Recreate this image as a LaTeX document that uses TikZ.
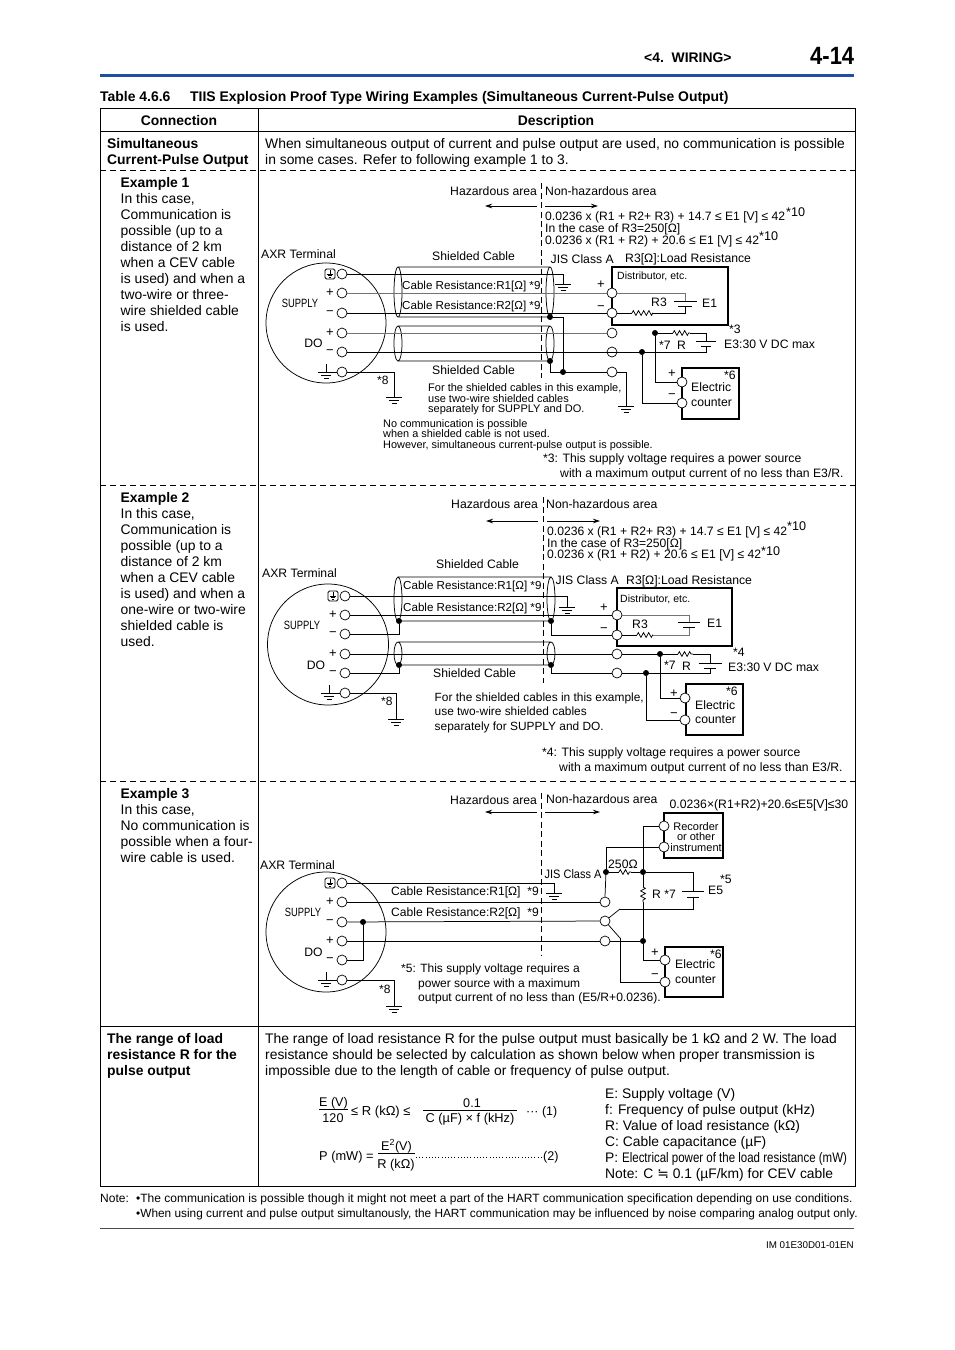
\documentclass[tikz,border=0pt]{standalone}
\usepackage{fontspec}
\setmainfont{Liberation Sans}
\newfontfamily\djv{DejaVu Sans}
\usetikzlibrary{decorations.pathmorphing,arrows.meta}
\definecolor{hdrblue}{HTML}{1F4FA3}
\newcounter{tn}
\newcommand\T[5][]{\stepcounter{tn}\node[tx,name=t\arabic{tn},#1] at (#2,#3) {\fontsize{#4}{#4}\selectfont #5};}
\newcommand\CX[2]{\scalebox{#1}[1]{#2}}
\newcommand\Gnd[2]{\draw[wire] (#1-8,#2)--(#1+8,#2) (#1-5,#2+3)--(#1+5,#2+3) (#1-2.5,#2+6)--(#1+2.5,#2+6);}
\newcommand\Bat[5]{\draw[wire] (#1-#4,#2)--(#1+#4,#2) (#1-#5,#3)--(#1+#5,#3);}
\newcommand\Cable[4]{\draw[wire] (#1,#3)--(#2,#3) (#1,#4)--(#2,#4) (#1,{(#3+#4)/2}) ellipse [x radius=4,y radius={(#4-#3)/2}] (#2,{(#3+#4)/2}) ellipse [x radius=4,y radius={(#4-#3)/2}];}
\newcommand\Earth[2]{\draw[wire,rounded corners=1.5] (#1-5,#2-5) rectangle (#1+5,#2+5); \draw[wire] (#1,#2-4)--(#1,#2) (#1-3.2,#2)--(#1+3.2,#2) (#1-1.8,#2+1.6)--(#1+1.8,#2+1.6) (#1-.8,#2+3)--(#1+.8,#2+3);}
\newcommand\Chass[2]{\draw[wire] (#1,#2-8)--(#1,#2) (#1-8,#2)--(#1+11,#2) (#1-5,#2+3)--(#1+5,#2+3) (#1-2.5,#2+6)--(#1+2.5,#2+6);}
\tikzset{
 tx/.style={inner sep=0pt,anchor=base west,text=black},
 term/.style={circle,draw=black,line width=.7pt,fill=white,minimum size=10pt,inner sep=0pt},
 jdot/.style={circle,fill=black,minimum size=6pt,inner sep=0pt},
 wire/.style={line width=.75pt,black},
 gwire/.style={line width=.9pt,black!55},
 bx/.style={line width=1.4pt,black},
 zz/.style={wire,decorate,decoration={zigzag,amplitude=2.4pt,segment length=5.2pt}},
 zone/.style={line width=.75pt,dash pattern=on 6pt off 3.5pt},
 rowd/.style={line width=.75pt,dash pattern=on 6pt off 4pt},
 arr/.style={line width=.75pt,-{Stealth[length=7pt,width=4.5pt]}},
}
\begin{document}
\begin{tikzpicture}[x=1pt,y=-1pt]
\useasboundingbox (0,0) rectangle (954,1350);
\fill[white] (0,0) rectangle (954,1350);
% ---------- header
\T{644}{62}{13.9}{\bfseries <4.\ \ WIRING>}
\T{810}{64}{25}{\bfseries \CX{.88}{4-14}}
\draw[hdrblue,line width=3pt] (100,75.5)--(854,75.5);
\T{100}{101}{13.95}{\bfseries Table 4.6.6}
\T{190}{101}{13.95}{\bfseries TIIS Explosion Proof Type Wiring Examples (Simultaneous Current-Pulse Output)}
% ---------- table
\draw[line width=.8pt] (100,108) rectangle (855,1186);
\draw[line width=.8pt] (258.5,108)--(258.5,1186) (100,131.5)--(855,131.5) (100,1026.5)--(855,1026.5);
\draw[rowd] (100,170.5)--(855,170.5) (100,485.5)--(855,485.5) (100,781.5)--(855,781.5);
\T[anchor=base]{179}{125}{13.9}{\bfseries Connection}
\T[anchor=base]{556}{125}{13.9}{\bfseries Description}
\T{107}{148}{13.9}{\bfseries Simultaneous}
\T{107}{164}{13.9}{\bfseries Current-Pulse Output}
\T{265}{148}{13.87}{When simultaneous output of current and pulse output are used, no communication is possible}
\T{265}{164}{13.87}{in some cases. Refer to following example 1 to 3.}
% col 1 texts
\T{120.5}{187}{13.9}{\bfseries Example 1}
\T{120.5}{203}{13.9}{In this case,}
\T{120.5}{219}{13.9}{Communication is}
\T{120.5}{235}{13.9}{possible (up to a}
\T{120.5}{251}{13.9}{distance of 2 km}
\T{120.5}{267}{13.9}{when a CEV cable}
\T{120.5}{283}{13.9}{is used) and when a}
\T{120.5}{299}{13.9}{two-wire or three-}
\T{120.5}{315}{13.9}{wire shielded cable}
\T{120.5}{331}{13.9}{is used.}
\T{120.5}{502}{13.9}{\bfseries Example 2}
\T{120.5}{518}{13.9}{In this case,}
\T{120.5}{534}{13.9}{Communication is}
\T{120.5}{550}{13.9}{possible (up to a}
\T{120.5}{566}{13.9}{distance of 2 km}
\T{120.5}{582}{13.9}{when a CEV cable}
\T{120.5}{598}{13.9}{is used) and when a}
\T{120.5}{614}{13.9}{one-wire or two-wire}
\T{120.5}{630}{13.9}{shielded cable is}
\T{120.5}{646}{13.9}{used.}
\T{120.5}{798}{13.9}{\bfseries Example 3}
\T{120.5}{814}{13.9}{In this case,}
\T{120.5}{830}{13.9}{No communication is}
\T{120.5}{846}{13.9}{possible when a four-}
\T{120.5}{862}{13.9}{wire cable is used.}
% ========== EXAMPLE 1
\draw[wire] (326,323) circle [radius=60];
\draw[zone] (541.5,183)--(541.5,378);
\draw[arr] (537,206)--(485,206);
\draw[arr] (545,206)--(598,206);
\Cable{398}{550}{267}{317}
\Cable{398}{550}{326}{361}
\draw[bx] (612,267) rectangle (728,325);
\draw[bx] (682,368) rectangle (739,419);
\foreach \n/\y in {a1/274,a2/293,a3/313,a4/333,a5/352,a6/372}{\node[term] (\n) at (342,\y) {};}
\foreach \n/\y in {b2/293,b3/313,b4/333,b5/352,b6/372}{\node[term] (\n) at (612,\y) {};}
\node[term] (cp) at (682,382) {};
\node[term] (cm) at (682,403) {};
\node[jdot] (s1) at (550,317) {};
\node[jdot] (s2) at (550,361) {};
\node[jdot] (j1) at (563,372) {};
\node[jdot] (j2) at (655,333) {};
\node[jdot] (j3) at (642,352) {};
\coordinate (g1) at (563,284); \coordinate (g2) at (394,397); \coordinate (g3) at (626,406);
\coordinate (p1) at (685,301); \coordinate (p2) at (685,306);
\coordinate (r1a) at (632,313); \coordinate (r1b) at (653,313);
\coordinate (r2a) at (673,333); \coordinate (r2b) at (690,333);
\coordinate (p3) at (706,341); \coordinate (p4) at (706,346);
\draw[wire] (a1.east) -| (g1);
\draw[gwire] (a2)--(b2);
\draw[wire] (a3)--(b3);
\draw[gwire] (a4)--(b4);
\draw[wire] (a5)--(j3);
\draw[wire] (a6.east) -| (g2);
\draw[wire] (s1) -| (j1);
\draw[wire] (s2) |- (b6.west);
\draw[wire] (b6.east) -| (g3);
\draw[gwire] (b2.east) -| (p1);
\draw[wire] (p2) |- (r1b);
\draw[zz] (r1a)--(r1b);
\draw[wire] (b3.east)--(r1a);
\draw[wire] (j2)--(r2a);
\draw[zz] (r2a)--(r2b);
\draw[wire] (r2b) -| (p3);
\draw[wire] (p4) |- (b5.east);
\draw[wire] (j2) |- (cp.west);
\draw[wire] (j3) |- (cm.west);
\Gnd{563}{284}\Gnd{394}{397}\Gnd{626}{406}
\Bat{685}{301}{306}{11.5}{7}
\Bat{706}{341}{346}{10}{5}
\Earth{330}{274}
\Chass{326}{372}
\T[anchor=center]{330}{293}{13}{+}\T[anchor=center]{330}{313}{13}{−}\T[anchor=center]{330}{333}{13}{+}\T[anchor=center]{330}{352}{13}{−}
\T[anchor=center]{300}{303}{12}{\CX{.78}{SUPPLY}}
\T[anchor=center]{313.5}{343}{12.2}{DO}
\T[anchor=center]{601}{285}{13}{+}\T[anchor=center]{601}{308}{13}{−}
\T[anchor=center]{672}{374}{13}{+}\T[anchor=center]{672}{396}{13}{−}
\T{261}{258}{12.2}{AXR Terminal}
\T{432}{260}{12.2}{Shielded Cable}
\T{432}{374}{12.2}{Shielded Cable}
\T{402}{289}{11.6}{Cable Resistance:R1[Ω] *9}
\T{402}{309}{11.6}{Cable Resistance:R2[Ω] *9}
\T{450}{195}{12.2}{Hazardous area}
\T{545}{195}{12.2}{Non-hazardous area}
\T{545}{220}{12.15}{0.0236 x (R1 + R2+ R3) + 14.7 ≤ E1 [V] ≤ 42}
\T{786}{216}{12.6}{*10}
\T{545}{232}{12.15}{In the case of R3=250[Ω]}
\T{545}{244}{12.15}{0.0236 x (R1 + R2) + 20.6 ≤ E1 [V] ≤ 42}
\T{759}{240}{12.6}{*10}
\T{550.5}{263}{12.2}{JIS Class A}
\T{625}{262}{12.2}{R3[Ω]:Load Resistance}
\T{617}{279}{10.5}{Distributor, etc.}
\T{651}{306}{12.2}{R3}
\T{702}{307}{12.2}{E1}
\T{729}{333}{12.2}{*3}
\T{659}{349}{12.2}{*7}
\T{677}{349}{12.2}{R}
\T{724}{348}{12.2}{E3:30 V DC max}
\T{724}{379}{12.2}{*6}
\T{691}{391}{12.2}{Electric}
\T{691}{406}{12.2}{counter}
\T{377}{384}{12}{*8}
\T{428}{391}{11}{For the shielded cables in this example,}
\T{428}{402}{11}{use two-wire shielded cables}
\T{428}{412.5}{11}{separately for SUPPLY and DO.}
\T{383}{427}{10.9}{No communication is possible}
\T{383}{437.5}{10.9}{when a shielded cable is not used.}
\T{383}{448}{10.9}{However, simultaneous current-pulse output is possible.}
\T{543}{462}{12.2}{*3: This supply voltage requires a power source}
\T{560}{477}{12.2}{with a maximum output current of no less than E3/R.}
% ========== EXAMPLE 2
\draw[wire] (328,644.5) circle [radius=60.5];
\draw[zone] (543,497)--(543,683);
\draw[arr] (538,521)--(486,521);
\draw[arr] (547,521)--(600,521);
\Cable{398}{551}{577}{621}
\Cable{398}{551}{642}{665}
\draw[bx] (617,588) rectangle (732,646);
\draw[bx] (686,684) rectangle (743,735);
\foreach \n/\y in {d1/596,d2/615,d3/634,d4/654,d5/673,d6/693}{\node[term] (\n) at (345,\y) {};}
\foreach \n/\y in {e2/615,e3/635,e4/654,e5/673}{\node[term] (\n) at (617,\y) {};}
\node[term] (fp) at (685,698) {};
\node[term] (fm) at (685,720) {};
\node[jdot] (u1) at (399,621) {};
\node[jdot] (u2) at (399,665) {};
\node[jdot] (u3) at (551,621) {};
\node[jdot] (u4) at (551,665) {};
\node[jdot] (k2) at (660,654) {};
\node[jdot] (k3) at (646,673) {};
\coordinate (h1) at (567,607); \coordinate (h2) at (396,719);
\coordinate (q1) at (689,622); \coordinate (q2) at (689,627);
\coordinate (v1a) at (637,635); \coordinate (v1b) at (653,635);
\coordinate (v2a) at (678,654); \coordinate (v2b) at (693,654);
\coordinate (q3) at (710,663); \coordinate (q4) at (710,668);
\draw[wire] (d1.east) -| (h1);
\draw[wire] (d2)--(e2);
\draw[wire] (d3.east) -| (u1);
\draw[wire] (d4)--(e4);
\draw[wire] (d5.east) -| (u2);
\draw[wire] (d6.east) -| (h2);
\draw[wire] (u3) |- (e3.west);
\draw[wire] (u4) |- (e5.west);
\draw[gwire] (e2.east) -| (q1);
\draw[gwire] (q2) |- (v1b);
\draw[zz] (v1a)--(v1b);
\draw[wire] (e3.east)--(v1a);
\draw[wire] (e4.east)--(v2a);
\draw[zz] (v2a)--(v2b);
\draw[wire] (v2b) -| (q3);
\draw[wire] (q4) |- (e5.east);
\draw[wire] (k2) |- (fp.west);
\draw[wire] (k3) |- (fm.west);
\Gnd{567}{607}\Gnd{396}{719}
\Bat{689}{622}{627}{11}{6}
\Bat{710}{663}{668}{11.5}{6}
\Earth{333}{596}
\Chass{329}{693}
\T[anchor=center]{333}{615}{13}{+}\T[anchor=center]{333}{634}{13}{−}\T[anchor=center]{333}{654}{13}{+}\T[anchor=center]{333}{673}{13}{−}
\T[anchor=center]{302}{625}{12}{\CX{.78}{SUPPLY}}
\T[anchor=center]{316}{665}{12.2}{DO}
\T[anchor=center]{604}{608}{13}{+}\T[anchor=center]{604}{630}{13}{−}
\T[anchor=center]{674}{694}{13}{+}\T[anchor=center]{674}{715}{13}{−}
\T{262}{577}{12.2}{AXR Terminal}
\T{436}{568}{12.2}{Shielded Cable}
\T{433}{677}{12.2}{Shielded Cable}
\T{403}{589}{11.6}{Cable Resistance:R1[Ω] *9}
\T{403}{611}{11.6}{Cable Resistance:R2[Ω] *9}
\T{451}{508}{12.2}{Hazardous area}
\T{546}{508}{12.2}{Non-hazardous area}
\T{547}{535}{12.15}{0.0236 x (R1 + R2+ R3) + 14.7 ≤ E1 [V] ≤ 42}
\T{787}{530}{12.6}{*10}
\T{547}{547}{12.15}{In the case of R3=250[Ω]}
\T{547}{558}{12.15}{0.0236 x (R1 + R2) + 20.6 ≤ E1 [V] ≤ 42}
\T{761}{555}{12.6}{*10}
\T{555.5}{584}{12.2}{JIS Class A}
\T{626}{584}{12.2}{R3[Ω]:Load Resistance}
\T{620}{602}{10.5}{Distributor, etc.}
\T{632}{628}{12.2}{R3}
\T{707}{627}{12.2}{E1}
\T{733}{656}{12.2}{*4}
\T{664}{669}{12.2}{*7}
\T{682}{670}{12.2}{R}
\T{728}{671}{12.2}{E3:30 V DC max}
\T{726}{695}{12.2}{*6}
\T{695}{709}{12.2}{Electric}
\T{695}{723}{12.2}{counter}
\T{381}{705}{12}{*8}
\T{434.5}{701}{11.9}{For the shielded cables in this example,}
\T{434.5}{715.5}{11.9}{use two-wire shielded cables}
\T{434.5}{730}{11.9}{separately for SUPPLY and DO.}
\T{542}{756}{12.2}{*4: This supply voltage requires a power source}
\T{559}{771}{12.2}{with a maximum output current of no less than E3/R.}
% ========== EXAMPLE 3
\draw[wire] (326,932) circle [radius=60];
\draw[zone] (541.5,793)--(541.5,955);
\draw[arr] (537,812)--(485,812);
\draw[arr] (545,812)--(600,812);
\draw[bx] (664,813) rectangle (723,858);
\draw[bx] (665,947) rectangle (723,997);
\foreach \n/\y in {m1/883,m2/902,m3/922,m4/941,m5/960,m6/980}{\node[term] (\n) at (342,\y) {};}
\foreach \n/\y in {n2/902,n3/921,n4/941}{\node[term] (\n) at (605,\y) {};}
\node[term] (o1) at (664,826) {};
\node[term] (o2) at (664,847) {};
\node[term] (o3) at (665,960) {};
\node[term] (o4) at (665,982) {};
\node[jdot] (w1) at (363,922) {};
\node[jdot] (w2) at (606,872) {};
\node[jdot] (w3) at (643,872) {};
\node[jdot] (w4) at (643,941) {};
\coordinate (l1) at (554,893); \coordinate (l2) at (394,1006);
\coordinate (y1a) at (619,872); \coordinate (y1b) at (631,872);
\coordinate (y2a) at (643,887); \coordinate (y2b) at (643,902);
\coordinate (z1) at (693,891); \coordinate (z2) at (693,897);
\coordinate (z3) at (620,909); \coordinate (z4) at (620,938);
\draw[wire] (m1.east) -| (l1);
\draw[wire] (m2)--(n2);
\draw[wire] (m3)--(n3);
\draw[wire] (m4)--(n4);
\draw[wire] (m5.east) -| (w1);
\draw[wire] (m6.east) -| (l2);
\draw[wire] (n2.north)--(w2);
\draw[wire] (w2) |- (o2.west);
\draw[wire] (w2)--(y1a);
\draw[zz] (y1a)--(y1b);
\draw[wire] (y1b)--(w3);
\draw[wire] (w3) -| (z1);
\draw[wire] (z2) |- (z3);
\draw[wire] (z3)--(n3);
\draw[wire] (n3)--(z4);
\draw[wire] (z4) |- (o4.west);
\draw[wire] (w3) |- (o1.west);
\draw[wire] (w3)--(y2a);
\draw[zz] (y2a)--(y2b);
\draw[wire] (y2b)--(w4);
\draw[wire] (n4)--(w4);
\draw[wire] (w4) |- (o3.west);
\Gnd{554}{893}\Gnd{394}{1006}
\Bat{693}{891}{897}{11}{6}
\Earth{330}{883}
\Chass{326}{980}
\T[anchor=center]{330}{902}{13}{+}\T[anchor=center]{330}{922}{13}{−}\T[anchor=center]{330}{941}{13}{+}\T[anchor=center]{330}{960}{13}{−}
\T[anchor=center]{303}{912}{12}{\CX{.78}{SUPPLY}}
\T[anchor=center]{313.5}{952}{12.2}{DO}
\T[anchor=center]{655}{953}{13}{+}\T[anchor=center]{655}{976}{13}{−}
\T{450}{804}{12.2}{Hazardous area}
\T{546}{803}{12.2}{Non-hazardous area}
\T{669.5}{808}{12.2}{0.0236×(R1+R2)+20.6≤E5[V]≤30}
\T{260}{869}{12.2}{AXR Terminal}
\T{391}{895}{12.1}{Cable Resistance:R1[Ω]\ \ *9}
\T{391}{916}{12.1}{Cable Resistance:R2[Ω]\ \ *9}
\T{544.5}{878}{12.2}{\CX{.9}{JIS Class A}}
\T{608}{868}{12.2}{250Ω}
\T{652}{898}{12.2}{R *7}
\T{708}{894}{12.2}{E5}
\T{720}{883}{12.2}{*5}
\T[anchor=base]{696}{830}{11}{Recorder}
\T[anchor=base]{696}{840.5}{11}{or other}
\T[anchor=base]{696}{851}{11}{instrument}
\T{710}{958}{12.2}{*6}
\T{675}{968}{12.2}{Electric}
\T{675}{983}{12.2}{counter}
\T{379}{993}{12}{*8}
\T{401}{972}{12}{*5: This supply voltage requires a}
\T{418}{987}{12}{power source with a maximum}
\T{418}{1001}{12.1}{output current of no less than (E5/R+0.0236).}
% ========== RANGE ROW
\T{107}{1043}{13.9}{\bfseries The range of load}
\T{107}{1059}{13.9}{\bfseries resistance R for the}
\T{107}{1075}{13.9}{\bfseries pulse output}
\T{265}{1043}{13.87}{The range of load resistance R for the pulse output must basically be 1 kΩ and 2 W. The load}
\T{265}{1059}{13.87}{resistance should be selected by calculation as shown below when proper transmission is}
\T{265}{1075}{13.87}{impossible due to the length of cable or frequency of pulse output.}
\T[anchor=base]{333.5}{1106}{12.6}{E (V)}
\draw[wire] (319,1109.5)--(348,1109.5);
\T[anchor=base]{333}{1122}{12.6}{120}
\T{351}{1115}{13}{≤ R (kΩ) ≤}
\T[anchor=base]{472}{1107}{12.6}{0.1}
\draw[wire] (423,1110)--(517,1110);
\T[anchor=base]{470}{1122}{12.8}{C (µF) × f (kHz)}
\T{526}{1115}{12.4}{··· (1)}
\T{319}{1160}{12.8}{P (mW) =}
\T[anchor=base]{396.5}{1150}{12.6}{E\textsuperscript{2}(V)}
\draw[wire] (378,1153)--(415,1153);
\T[anchor=base]{396}{1168}{12.8}{R (kΩ)}
\draw[wire,line width=.8pt,dash pattern=on 1pt off 2.2pt] (416,1157.5)--(543,1157.5);
\T{543}{1160}{12.6}{(2)}
\T{605}{1098}{13.85}{E: Supply voltage (V)}
\T{605}{1114}{13.85}{f: Frequency of pulse output (kHz)}
\T{605}{1130}{13.85}{R: Value of load resistance (kΩ)}
\T{605}{1146}{13.85}{C: Cable capacitance (µF)}
\T{605}{1162}{13.85}{P: \CX{.83}{Electrical power of the load resistance (mW)}}
\T{605}{1178}{13.85}{Note: C {\djv ≒} 0.1 (µF/km) for CEV cable}
% ---------- footer
\T{100}{1202}{12}{Note:}
\T{136}{1202}{12}{•The communication is possible though it might not meet a part of the HART communication specification depending on use conditions.}
\T{136}{1217}{11.85}{•When using current and pulse output simultanously, the HART communication may be influenced by noise comparing analog output only.}
\draw[line width=.6pt,black!70] (100,1228)--(854,1228);
\T[anchor=base east]{854}{1248}{9.8}{IM 01E30D01-01EN}
\end{tikzpicture}
\end{document}
